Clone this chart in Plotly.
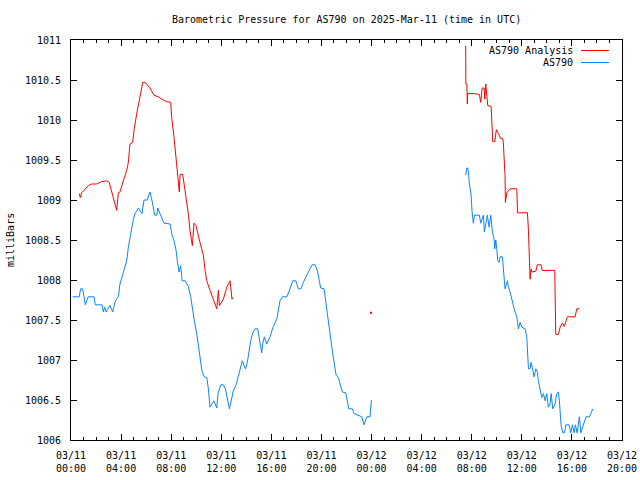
import plotly.graph_objects as go

# ---- data (hours since 2025-03-11 00:00 UTC, pressure in mbar) ----
analysis_hours = [
    0.66, 0.74, 0.85, 1.10, 1.40, 1.65, 2.05, 2.45, 2.85, 3.05, 3.35, 3.60, 3.65, 3.78, 3.91,
    4.18, 4.45, 4.58, 4.71, 4.93, 5.03, 5.25, 5.43, 5.57, 5.73, 5.91, 6.31, 6.63, 6.97, 7.37,
    7.64, 7.96, 8.04, 8.23, 8.39, 8.49, 8.57, 8.65, 8.71, 8.92, 9.03, 9.24, 9.37, 9.50, 9.69,
    9.82, 9.98, 10.30, 10.57, 10.70, 10.84, 11.10, 11.37, 11.64, 11.77, 11.85, 12.17, 12.44,
    12.70, 12.80, 12.86, 12.91,
    None,
    23.96,
    None,
    31.52, 31.53, 31.61, 31.65, 31.68, 32.13, 32.61, 32.72, 32.83, 32.99, 33.04, 33.12, 33.20,
    33.28, 33.55, 33.63, 33.68, 33.84, 33.97, 34.13, 34.32, 34.48, 34.53, 34.61, 34.66, 34.69,
    34.80, 35.06, 35.60, 35.66, 36.45, 36.53, 36.61, 36.66, 36.74, 36.80, 37.12, 37.24, 37.54,
    37.62, 38.63, 38.66, 38.71, 38.92, 39.06, 39.24, 39.38, 39.54, 39.64, 40.26, 40.39, 40.60,
]
analysis_mbar = [
    1009.08, 1009.03, 1009.09, 1009.13, 1009.18, 1009.20, 1009.20, 1009.23, 1009.24, 1009.22,
    1009.05, 1008.90, 1008.87, 1009.09, 1009.10, 1009.24, 1009.37, 1009.47, 1009.70, 1009.72,
    1009.87, 1010.08, 1010.22, 1010.35, 1010.47, 1010.47, 1010.40, 1010.31, 1010.29, 1010.25,
    1010.23, 1010.22, 1010.03, 1009.78, 1009.53, 1009.41, 1009.20, 1009.10, 1009.32, 1009.32,
    1009.20, 1008.99, 1008.83, 1008.62, 1008.43, 1008.71, 1008.68, 1008.47, 1008.31, 1008.13,
    1007.99, 1007.87, 1007.74, 1007.64, 1007.87, 1007.68, 1007.76, 1007.91, 1007.99, 1007.87,
    1007.76, 1007.78,
    None,
    1007.59,
    None,
    1010.93, 1010.45, 1010.45, 1010.20, 1010.33, 1010.33, 1010.32, 1010.22, 1010.40, 1010.40,
    1010.26, 1010.45, 1010.28, 1010.18, 1010.17, 1009.95, 1009.73, 1009.73, 1009.88, 1009.83,
    1009.77, 1009.77, 1009.70, 1009.45, 1009.31, 1008.97, 1009.09, 1009.14, 1009.14, 1008.84,
    1008.84, 1008.62, 1008.33, 1008.01, 1008.14, 1008.10, 1008.11, 1008.19, 1008.19, 1008.12,
    1008.12, 1007.72, 1007.32, 1007.32, 1007.41, 1007.46, 1007.42, 1007.49, 1007.54, 1007.54,
    1007.64, 1007.64,
]

station_hours = [
    0.13, 0.66, 0.77, 0.93, 1.04, 1.14, 1.38, 1.84, 1.94, 2.48, 2.58, 2.69, 2.80, 2.96, 3.12,
    3.33, 3.51, 3.65, 3.78, 3.91, 4.05, 4.18, 4.31, 4.45, 4.58, 4.71, 4.85, 4.98, 5.11, 5.25,
    5.38, 5.51, 5.67, 5.83, 6.10, 6.21, 6.31, 6.42, 6.63, 6.69, 6.85, 6.93, 7.05, 7.24, 7.43,
    7.91, 8.04, 8.23, 8.39, 8.49, 8.63, 8.76, 8.87, 9.11, 9.37, 9.56, 9.69, 9.85, 10.04, 10.20,
    10.36, 10.46, 10.65, 10.84, 10.97, 11.10, 11.24, 11.42, 11.64, 11.74, 11.96, 12.17, 12.33,
    12.49, 12.65, 12.81, 12.97, 13.18, 13.36, 13.50, 13.68, 13.82, 13.95, 14.08, 14.24, 14.35,
    14.51, 14.70, 14.91, 15.04, 15.15, 15.23, 15.31, 15.44, 15.63, 15.89, 16.16, 16.43, 16.59,
    16.69, 16.88, 17.23, 17.44, 17.71, 17.95, 18.16, 18.37, 18.55, 18.83, 19.09, 19.25, 19.49,
    19.67, 19.83, 19.94, 20.21, 20.31, 20.42, 20.58, 20.74, 20.90, 21.03, 21.17, 21.35, 21.49,
    21.67, 21.94, 22.07, 22.18, 22.47, 22.60, 23.22, 23.40, 23.62, 23.88, 23.99,
    None,
    31.52, 31.55, 31.61, 31.68, 31.73, 31.82, 31.95, 32.03, 32.13, 32.21, 32.61, 32.72, 32.93,
    33.01, 33.12, 33.25, 33.39, 33.52, 33.65, 33.79, 33.84, 33.92, 34.00, 34.08, 34.18, 34.27,
    34.45, 34.53, 34.58, 34.66, 34.85, 34.93, 35.06, 35.20, 35.33, 35.46, 35.60, 35.73, 35.86,
    36.00, 36.26, 36.40, 36.45, 36.53, 36.66, 36.74, 36.88, 36.98, 37.12, 37.24, 37.32, 37.46,
    37.60, 37.73, 37.86, 37.99, 38.12, 38.26, 38.34, 38.47, 38.66, 38.79, 38.92, 39.00, 39.06,
    39.14, 39.27, 39.40, 39.51, 39.78, 39.91, 40.04, 40.18, 40.28, 40.42, 40.55, 40.60, 40.71,
    40.84, 40.97, 41.13, 41.40, 41.53, 41.67,
]
station_mbar = [
    1007.79, 1007.79, 1007.89, 1007.89, 1007.79, 1007.69, 1007.79, 1007.79, 1007.69, 1007.69,
    1007.60, 1007.66, 1007.60, 1007.64, 1007.68, 1007.60, 1007.72, 1007.77, 1007.79, 1007.95,
    1008.03, 1008.10, 1008.16, 1008.24, 1008.41, 1008.53, 1008.66, 1008.76, 1008.83, 1008.87,
    1008.90, 1008.87, 1008.83, 1009.00, 1009.00, 1009.06, 1009.10, 1009.03, 1008.89, 1008.81,
    1008.81, 1008.90, 1008.85, 1008.79, 1008.71, 1008.70, 1008.58, 1008.49, 1008.37, 1008.24,
    1008.10, 1008.18, 1007.99, 1007.99, 1007.92, 1007.79, 1007.64, 1007.49, 1007.33, 1007.16,
    1006.97, 1006.86, 1006.79, 1006.78, 1006.64, 1006.41, 1006.45, 1006.49, 1006.40, 1006.58,
    1006.69, 1006.69, 1006.64, 1006.53, 1006.39, 1006.50, 1006.62, 1006.69, 1006.81, 1006.91,
    1006.99, 1006.93, 1006.89, 1006.97, 1007.14, 1007.24, 1007.34, 1007.39, 1007.39, 1007.29,
    1007.16, 1007.09, 1007.20, 1007.29, 1007.20, 1007.29, 1007.42, 1007.51, 1007.66, 1007.74,
    1007.79, 1007.79, 1007.87, 1007.99, 1007.99, 1007.89, 1007.89, 1007.97, 1008.06, 1008.14,
    1008.19, 1008.19, 1008.12, 1007.99, 1007.90, 1007.89, 1007.74, 1007.64, 1007.45, 1007.24,
    1007.08, 1006.95, 1006.81, 1006.78, 1006.70, 1006.60, 1006.59, 1006.49, 1006.39, 1006.39,
    1006.33, 1006.29, 1006.19, 1006.29, 1006.29, 1006.50,
    None,
    1009.31, 1009.37, 1009.40, 1009.40, 1009.35, 1009.20, 1009.06, 1008.85, 1008.71, 1008.81,
    1008.81, 1008.71, 1008.81, 1008.60, 1008.70, 1008.81, 1008.66, 1008.81, 1008.60, 1008.51,
    1008.39, 1008.50, 1008.39, 1008.24, 1008.22, 1008.29, 1008.29, 1008.14, 1007.95, 1007.89,
    1007.99, 1007.91, 1007.85, 1007.74, 1007.68, 1007.60, 1007.54, 1007.39, 1007.47, 1007.41,
    1007.39, 1007.28, 1007.14, 1006.89, 1006.89, 1006.97, 1006.87, 1006.79, 1006.89, 1006.85,
    1006.74, 1006.64, 1006.53, 1006.58, 1006.49, 1006.58, 1006.41, 1006.45, 1006.58, 1006.39,
    1006.45, 1006.58, 1006.60, 1006.49, 1006.29, 1006.18, 1006.09, 1006.09, 1006.19, 1006.19,
    1006.09, 1006.19, 1006.09, 1006.19, 1006.09, 1006.24, 1006.29, 1006.09, 1006.16, 1006.22,
    1006.29, 1006.29, 1006.35, 1006.39,
]

x_tick_hours = [0, 4, 8, 12, 16, 20, 24, 28, 32, 36, 40, 44]
x_tick_labels = [
    "03/11<br>00:00", "03/11<br>04:00", "03/11<br>08:00", "03/11<br>12:00",
    "03/11<br>16:00", "03/11<br>20:00", "03/12<br>00:00", "03/12<br>04:00",
    "03/12<br>08:00", "03/12<br>12:00", "03/12<br>16:00", "03/12<br>20:00",
]
y_tick_values = [1006, 1006.5, 1007, 1007.5, 1008, 1008.5, 1009, 1009.5, 1010, 1010.5, 1011]
y_tick_labels = ["1006", "1006.5", "1007", "1007.5", "1008", "1008.5",
                 "1009", "1009.5", "1010", "1010.5", "1011"]

series_names = ["AS790 Analysis", "AS790"]
series_colors = ["#ff0000", "#0a84ff"]

FONT = "DejaVu Sans Mono"


def isolated(xs, ys):
    px, py = [], []
    for i, (x, y) in enumerate(zip(xs, ys)):
        if y is None:
            continue
        prev_none = i == 0 or ys[i - 1] is None
        next_none = i == len(ys) - 1 or ys[i + 1] is None
        if prev_none and next_none:
            px.append(x)
            py.append(y)
    return px, py


fig = go.Figure()
for xs, ys, color in [(analysis_hours, analysis_mbar, series_colors[0]),
                      (station_hours, station_mbar, series_colors[1])]:
    fig.add_trace(go.Scatter(x=xs, y=ys, mode="lines", connectgaps=False,
                             line=dict(color=color, width=1), showlegend=False,
                             hoverinfo="skip"))
    ix, iy = isolated(xs, ys)
    if ix:
        fig.add_trace(go.Scatter(x=ix, y=iy, mode="markers",
                                 marker=dict(color=color, size=2, symbol="square"),
                                 showlegend=False, hoverinfo="skip"))

L, R, T, B = 71, 18, 40, 40
W, H = 640, 480
pw, ph = W - L - R, H - T - B

fig.update_layout(
    width=W, height=H,
    margin=dict(l=L, r=R, t=T, b=B, pad=0, autoexpand=False),
    paper_bgcolor="white", plot_bgcolor="white",
    font=dict(family=FONT, size=10, color="black"),
)

fig.update_xaxes(
    range=[0, 44], showgrid=False, zeroline=False, automargin=False,
    tickmode="array", tickvals=x_tick_hours, ticktext=x_tick_labels,
    ticks="inside", ticklen=6, tickwidth=1, tickcolor="black",
    minor=dict(dtick=1, tick0=0, ticks="inside", ticklen=3, tickwidth=1, tickcolor="black"),
    showline=True, linecolor="black", linewidth=1, mirror="allticks",
    tickfont=dict(family=FONT, size=10, color="black"), ticklabelstandoff=6,
)
fig.update_yaxes(
    range=[1006, 1011], showgrid=False, zeroline=False, automargin=False,
    tickmode="array", tickvals=y_tick_values, ticktext=y_tick_labels,
    ticks="inside", ticklen=6, tickwidth=1, tickcolor="black",
    showline=True, linecolor="black", linewidth=1, mirror="allticks",
    tickfont=dict(family=FONT, size=10, color="black"), ticklabelstandoff=7,
)

# title
fig.add_annotation(text="Barometric Pressure for AS790 on 2025-Mar-11 (time in UTC)",
                   showarrow=False, xref="paper", yref="paper",
                   x=0.5, y=(H - B - 19) / ph, xanchor="center", yanchor="middle",
                   font=dict(family=FONT, size=10, color="black"))

# y-axis title
fig.add_annotation(text="milliBars", textangle=-90, showarrow=False,
                   xref="paper", yref="paper", x=(10 - L) / pw, y=0.5,
                   xanchor="center", yanchor="middle",
                   font=dict(family=FONT, size=10, color="black"))

# gnuplot-style legend (text on the left, sample line on the right)
legend_rows_y = [50.5, 62.5]
for name, color, ypx in zip(series_names, series_colors, legend_rows_y):
    yp = (H - B - ypx) / ph
    fig.add_annotation(text=name, showarrow=False, xref="paper", yref="paper",
                       x=(575 - L) / pw, y=yp, xanchor="right", yanchor="middle",
                       font=dict(family=FONT, size=10, color="black"))
    fig.add_shape(type="line", xref="paper", yref="paper",
                  x0=(581 - L) / pw, x1=(609 - L) / pw, y0=yp, y1=yp,
                  line=dict(color=color, width=1))

fig.write_html("out.html",
               config={"displayModeBar": False, "staticPlot": True},
               post_script="document.body.style.margin='0';document.body.style.overflow='hidden';")
